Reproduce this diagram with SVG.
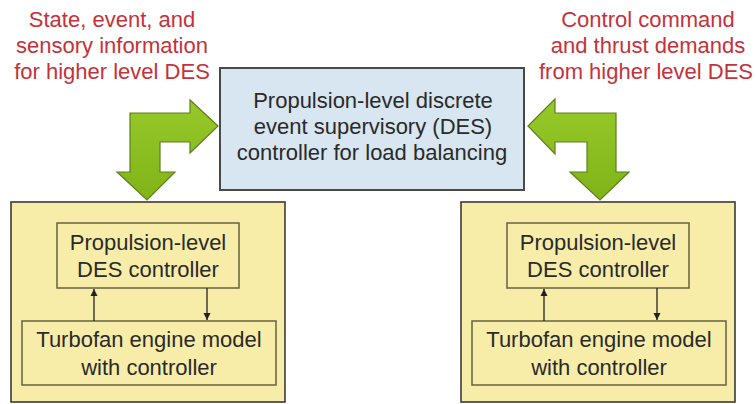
<svg xmlns="http://www.w3.org/2000/svg" width="756" height="404" viewBox="0 0 756 404">
<defs>
<marker id="ah" viewBox="0 0 10 10" refX="10" refY="5" markerWidth="7" markerHeight="9" markerUnits="userSpaceOnUse" orient="auto">
<path d="M0,0 L10,5 L0,10 z" fill="#222"/>
</marker>
<linearGradient id="gr" x1="0" y1="0" x2="0" y2="1">
<stop offset="0" stop-color="#97c92a"/>
<stop offset="1" stop-color="#7fb317"/>
</linearGradient>
</defs>
<style>
text{font-family:"Liberation Sans",Arial,sans-serif;text-anchor:middle}
.red{fill:#c4323b;font-size:22px}
.blk{fill:#2a2a2a;font-size:22px}
.outer{fill:#f7eda8;stroke:#3a3a36;stroke-width:1.6}
.inner{fill:#f7eda8;stroke:#6e6a48;stroke-width:1.6}
.sup{fill:#d7e6f0;stroke:#4a4a4a;stroke-width:2}
.big{fill:url(#gr);stroke:#5f7f1c;stroke-width:1.2;stroke-linejoin:miter}
.thin{stroke:#222;stroke-width:1.3;fill:none}
</style>
<rect width="756" height="404" fill="#ffffff"/>
<g id="label-left">
<text class="red" x="112" y="27">State, event, and</text>
<text class="red" x="112" y="53">sensory information</text>
<text class="red" x="112" y="79">for higher level DES</text>
</g>
<g id="label-right">
<text class="red" x="648" y="27">Control command</text>
<text class="red" x="648" y="53">and thrust demands</text>
<text class="red" x="646" y="79">from higher level DES</text>
</g>
<g id="supervisor">
<rect class="sup" x="220" y="68" width="304" height="122"/>
<text class="blk" x="373" y="108">Propulsion-level discrete</text>
<text class="blk" x="373" y="134">event supervisory (DES)</text>
<text class="blk" x="372" y="160">controller for load balancing</text>
</g>
<g id="engine-left">
<rect class="outer" x="11" y="202" width="274" height="200"/>
<g id="des-left">
<rect class="inner" x="57" y="223" width="182" height="65"/>
<text class="blk" x="148" y="250">Propulsion-level</text>
<text class="blk" x="148" y="277">DES controller</text>
</g>
<g id="model-left">
<rect class="inner" x="22" y="321" width="254" height="64"/>
<text class="blk" x="149" y="347">Turbofan engine model</text>
<text class="blk" x="149" y="375">with controller</text>
</g>
</g>
<g id="engine-right">
<rect class="outer" x="461" y="202" width="274" height="200"/>
<g id="des-right">
<rect class="inner" x="507" y="223" width="182" height="65"/>
<text class="blk" x="598" y="250">Propulsion-level</text>
<text class="blk" x="598" y="277">DES controller</text>
</g>
<g id="model-right">
<rect class="inner" x="472" y="321" width="254" height="64"/>
<text class="blk" x="599" y="347">Turbofan engine model</text>
<text class="blk" x="599" y="375">with controller</text>
</g>
</g>
<g id="connectors">
<path class="big" d="M218,126 L190,100 L190,113 L130,113 L130,172 L117,172 L147,200 L175,172 L160,172 L160,142 L190,142 L190,153 Z"/>
<path class="big" d="M528,126 L555,99 L555,113 L616,113 L616,172 L629,172 L600,200 L570,172 L587,172 L587,142 L555,142 L555,154 Z"/>
<line class="thin" x1="94" y1="321" x2="94" y2="289" marker-end="url(#ah)"/>
<line class="thin" x1="207" y1="288" x2="207" y2="320" marker-end="url(#ah)"/>
<line class="thin" x1="544" y1="321" x2="544" y2="289" marker-end="url(#ah)"/>
<line class="thin" x1="657" y1="288" x2="657" y2="320" marker-end="url(#ah)"/>
</g>
</svg>
